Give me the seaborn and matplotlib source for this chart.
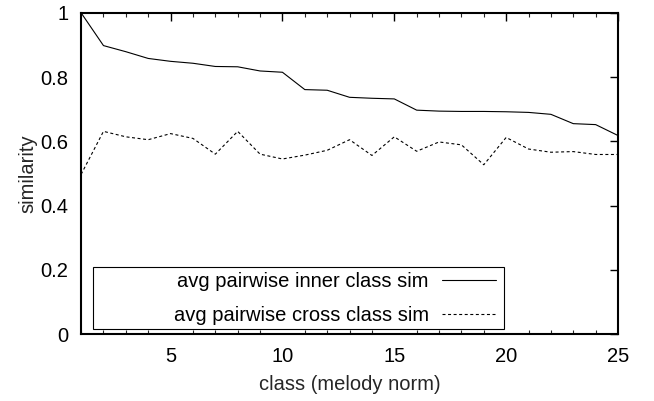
import numpy as np
import pandas as pd
import matplotlib
matplotlib.use("Agg")
import matplotlib.pyplot as plt
import seaborn as sns
from matplotlib.patches import Rectangle
from matplotlib.ticker import MultipleLocator

classes = list(range(1, 26))
inner_sim = [1.000, 0.898, 0.879, 0.858, 0.849, 0.843, 0.833, 0.832, 0.819, 0.815,
             0.761, 0.759, 0.737, 0.734, 0.732, 0.697, 0.694, 0.693, 0.693, 0.692,
             0.690, 0.684, 0.655, 0.652, 0.618]
cross_sim = [0.497, 0.631, 0.614, 0.605, 0.624, 0.609, 0.560, 0.631, 0.560, 0.545,
             0.557, 0.572, 0.605, 0.556, 0.614, 0.569, 0.598, 0.589, 0.527, 0.612,
             0.576, 0.566, 0.568, 0.559, 0.559]
series_names = ["avg pairwise inner class sim", "avg pairwise cross class sim"]
y_ticks = [0, 0.2, 0.4, 0.6, 0.8, 1]
y_tick_labels = ["0", "0.2", "0.4", "0.6", "0.8", "1"]
x_ticks = [5, 10, 15, 20, 25]

df = pd.DataFrame({
    "class": classes * 2,
    "similarity": inner_sim + cross_sim,
    "series": [series_names[0]] * len(classes) + [series_names[1]] * len(classes),
})

sns.set_theme(style="white")
plt.rcParams["font.family"] = ["Liberation Sans", "DejaVu Sans"]

FS = 14.5

fig = plt.figure(figsize=(6.54, 4.01), dpi=100)
ax = fig.add_axes([0.124, 0.167, 0.821, 0.801])

sns.lineplot(data=df, x="class", y="similarity", hue="series", style="series",
             palette=["black", "black"], dashes=[(None, None), (2.7, 2.3)],
             linewidth=0.8, ax=ax, legend=False)
lines = ax.get_lines()
lines[0].set_linestyle("-")

ax.set_xlim(1, 25)
ax.set_ylim(0, 1)
ax.set_xticks(x_ticks)
ax.xaxis.set_minor_locator(MultipleLocator(1))
ax.set_yticks(y_ticks)
ax.set_yticklabels(y_tick_labels)
ax.tick_params(axis="both", which="major", direction="in", length=6, width=1.0,
               top=True, right=True, labelsize=FS, colors="black")
ax.tick_params(axis="y", which="major", pad=9)
ax.tick_params(axis="x", which="major", pad=9)
ax.tick_params(axis="x", which="minor", direction="in", length=3, width=0.8,
               top=True, bottom=True)
for s in ax.spines.values():
    s.set_linewidth(1.5)
    s.set_color("black")
ax.set_xlabel("class (melody norm)", fontsize=FS, labelpad=7)
ax.set_ylabel("similarity", fontsize=FS, labelpad=2)

# legend (gnuplot style: right-aligned text, sample on the right)
handles = [lines[0], lines[1]]
leg = ax.legend(handles, series_names, loc="center right",
                bbox_to_anchor=(0.7735, 0.111), frameon=False, markerfirst=False,
                fontsize=FS, handlelength=2.7, handletextpad=0.65,
                labelspacing=0.72, borderpad=0.0, borderaxespad=0.0)
for t in leg.get_texts():
    t.set_color("black")
ax.add_patch(Rectangle((0.0225, 0.0165), 0.7655, 0.1915, transform=ax.transAxes,
                       fill=False, edgecolor="black", linewidth=0.8, zorder=5))

fig.savefig("out.png", dpi=100)
